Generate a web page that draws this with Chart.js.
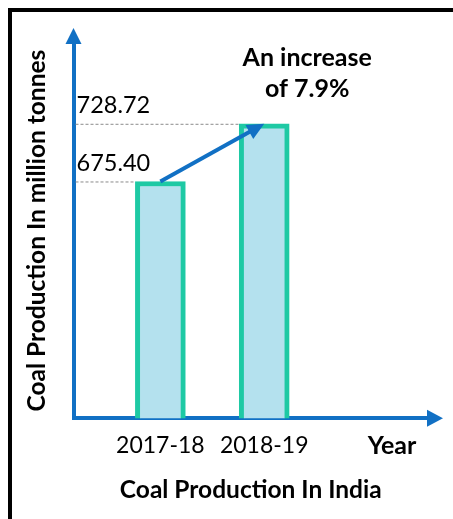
<!DOCTYPE html>
<html>
<head>
<meta charset="utf-8">
<script src="https://cdn.jsdelivr.net/npm/chart.js@4"></script>
<style>
  html, body { margin: 0; padding: 0; background: #fff; overflow: hidden; }
  #wrap { position: absolute; left: 0; top: 0; width: 453px; height: 519px; }
  #frame {
    position: absolute; left: 8px; top: 8px; width: 600px; height: 700px;
    border-left: 4px solid #000; border-top: 4px solid #000; pointer-events: none;
  }
</style>
</head>
<body>
<div id="wrap"><canvas id="myChart"></canvas></div>
<div id="frame"></div>
<script>
// данные графика
const categories = ['2017-18', '2018-19'];
const production = [675.40, 728.72];
const yTitle = 'Coal Production In million tonnes';
const xTitle = 'Coal Production In India';
const xName = 'Year';
const note = ['An increase', 'of 7.9%'];

const blue = '#1170c4';
const font = 'Lato';

function arrowHead(ctx, x, y, angle, len, half) {
    ctx.save();
    ctx.translate(x, y);
    ctx.rotate(angle);
    ctx.beginPath();
    ctx.moveTo(0, 0);
    ctx.lineTo(-len, -half);
    ctx.lineTo(-len, half);
    ctx.closePath();
    ctx.fill();
    ctx.restore();
}

// стрелки осей, пунктир и подписи
const decor = {
    id: 'decor',
    beforeDatasetsDraw(chart) {
        const {ctx, chartArea: a} = chart;
        const bars = chart.getDatasetMeta(0).data;
        ctx.save();
        ctx.fillStyle = blue;
        arrowHead(ctx, a.left, a.top - 15, -Math.PI / 2, 16, 8);
        arrowHead(ctx, a.right + 15, a.bottom, 0, 16, 8.5);
        ctx.strokeStyle = '#8a8a8a';
        ctx.lineWidth = 1;
        ctx.setLineDash([3, 2]);
        bars.forEach(b => {
            ctx.beginPath();
            ctx.moveTo(a.left + 2, b.y + 0.5);
            ctx.lineTo(b.x - b.width / 2, b.y + 0.5);
            ctx.stroke();
        });
        ctx.restore();
    },
    afterDatasetsDraw(chart) {
        const {ctx, chartArea: a} = chart;
        const bars = chart.getDatasetMeta(0).data;
        const p1 = bars[0], p2 = bars[1];
        const ang = Math.atan2(p2.y - p1.y, p2.x - p1.x);
        ctx.save();
        ctx.strokeStyle = blue;
        ctx.fillStyle = blue;
        ctx.lineWidth = 4;
        ctx.beginPath();
        ctx.moveTo(p1.x, p1.y);
        ctx.lineTo(p2.x - 14 * Math.cos(ang), p2.y - 14 * Math.sin(ang));
        ctx.stroke();
        arrowHead(ctx, p2.x, p2.y, ang, 17, 8);

        ctx.fillStyle = '#000';
        ctx.textAlign = 'center';
        ctx.textBaseline = 'middle';
        ctx.font = 'bold 25px ' + font;
        ctx.fillText(note[0], p2.x + 43, p2.y - 66);
        ctx.fillText(note[1], p2.x + 43, p2.y - 35);
        ctx.fillText(xName, a.right - 36, a.bottom + 28);
        ctx.restore();
    }
};

new Chart(document.getElementById('myChart'), {
    type: 'bar',
    data: {
        datasets: [{
            data: production.map((v, i) => ({x: i + 1, y: v})),
            backgroundColor: '#b4e1ee',
            borderColor: '#1ec9a4',
            borderWidth: 5,
            borderSkipped: false,
            barThickness: 50
        }]
    },
    options: {
        responsive: true,
        maintainAspectRatio: false,
        animation: false,
        layout: { padding: { left: 22.5, top: 43, right: 25, bottom: 0 } },
        plugins: { legend: { display: false }, tooltip: { enabled: false } },
        scales: {
            x: {
                type: 'linear',
                offset: false,
                min: 0.1635,
                max: 3.577,
                grid: { display: false, offset: false },
                border: { color: blue, width: 4 },
                afterBuildTicks: s => { s.ticks = categories.map((c, i) => ({value: i + 1})); },
                ticks: {
                    padding: 5.4,
                    color: '#000',
                    font: { family: font, size: 23 },
                    callback: (v, i) => categories[i]
                },
                title: {
                    display: true,
                    text: xTitle,
                    color: '#000',
                    font: { family: font, size: 24.5, weight: 'bold' },
                    padding: { top: 11, bottom: 14 }
                }
            },
            y: {
                min: 456.6,
                max: 803.4,
                grid: { display: false },
                border: { color: blue, width: 4 },
                afterBuildTicks: s => { s.ticks = production.map(v => ({value: v})); },
                ticks: {
                    mirror: true,
                    padding: 3,
                    labelOffset: -18,
                    color: '#000',
                    font: { family: font, size: 23.5 },
                    callback: v => v.toFixed(2)
                },
                title: {
                    display: true,
                    text: yTitle,
                    color: '#000',
                    font: { family: font, size: 24.5, weight: 'bold' },
                    padding: { top: 0, bottom: 7.6 }
                }
            }
        }
    },
    plugins: [decor]
});
</script>
</body>
</html>
